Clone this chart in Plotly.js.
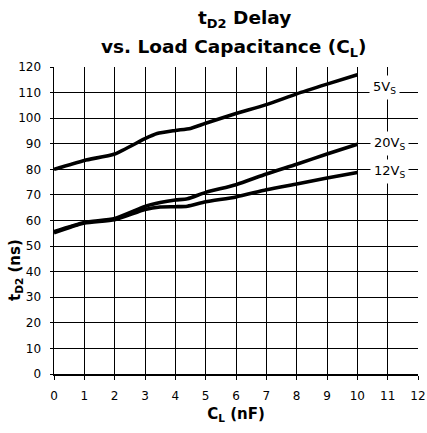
<!DOCTYPE html>
<html><head><meta charset="utf-8">
<script src="https://cdn.plot.ly/plotly-3.0.1.min.js"></script>
<style>body{margin:0;padding:0;background:#fff}#chart{width:427px;height:433px}</style>
</head><body><div id="chart"></div>
<script>
const x5 = [0, 1, 2, 3, 3.4, 4, 4.5, 5, 6, 7, 8, 9, 10];
const y5 = [80, 83.5, 86, 92, 94, 95.2, 96, 98, 101.8, 105.3, 109.5, 113.3, 117];
const x20 = [0, 1, 2, 3, 3.5, 4, 4.4, 5, 6, 7, 8, 9, 10];
const y20 = [55.6, 59.2, 60.8, 65.5, 67, 68, 68.5, 71, 74, 78.2, 82, 86, 89.8];
const x12 = [0, 1, 2, 3, 3.5, 4, 4.4, 5, 6, 7, 8, 9, 10];
const y12 = [55.2, 59, 60.3, 64.3, 65.3, 65.4, 65.6, 67.3, 69.2, 72, 74.3, 76.6, 78.8];
const labels = ["5V<sub>S</sub>", "20V<sub>S</sub>", "12V<sub>S</sub>"];
const labelX = [10.9, 11.05, 11.05];
const labelY = [112, 90, 79];
const xTicks = [0,1,2,3,4,5,6,7,8,9,10,11,12];
const yTicks = [0,10,20,30,40,50,60,70,80,90,100,110,120];
const titleLines = ["<b>t<sub>D2</sub> Delay</b>", "<b>vs. Load Capacitance (C<sub>L</sub>)</b>"];
const yTitle = "<b>t<sub>D2</sub> (ns)</b>";

const font = "'DejaVu Sans', sans-serif";
const lineStyle = {color: "#000", width: 3.6, shape: "spline", smoothing: 0.6};
const traces = [
  {x: x5, y: y5, mode: "lines", line: lineStyle, showlegend: false, hoverinfo: "skip"},
  {x: x20, y: y20, mode: "lines", line: lineStyle, showlegend: false, hoverinfo: "skip"},
  {x: x12, y: y12, mode: "lines", line: lineStyle, showlegend: false, hoverinfo: "skip"}
];
const annotations = labels.map((t, i) => ({
  x: labelX[i], y: labelY[i], xref: "x", yref: "y", text: t, showarrow: false,
  bgcolor: "#fff", font: {family: font, size: 13, color: "#000"}, borderpad: 3
}));
// title lines (pixel rows ~19 and ~48; plot area spans 67..374, 54..418)
const titleY = [(374 - 19) / 307, (374 - 48) / 307];
const titleX = [(244 - 54) / 364, (234 - 54) / 364];
titleLines.forEach((t, i) => annotations.push({
  x: titleX[i], y: titleY[i], xref: "paper", yref: "paper", xanchor: "center", yanchor: "middle",
  text: t, showarrow: false, font: {family: font, size: 18.5, color: "#000"}
}));
annotations.push({
  x: (15 - 54) / 364, y: (374 - 270) / 307, xref: "paper", yref: "paper", xanchor: "center", yanchor: "middle",
  text: yTitle, textangle: -90, showarrow: false, font: {family: font, size: 15, color: "#000"}
});
const layout = {
  width: 427, height: 433,
  margin: {l: 54, r: 9, t: 67, b: 59},
  paper_bgcolor: "#fff", plot_bgcolor: "#fff",
  font: {family: font, color: "#000"},
  xaxis: {range: [0, 12], tickvals: xTicks, ticktext: xTicks.map(String), showgrid: true,
          gridcolor: "#000", gridwidth: 1, zeroline: false, showline: true, linecolor: "#000", linewidth: 1.5,
          ticks: "outside", ticklen: 4, tickcolor: "#000", tickfont: {family: font, size: 12, color: "#000"},
          ticklabelstandoff: 6,
          title: {text: "<b>C<sub>L</sub> (nF)</b>", font: {family: font, size: 15, color: "#000"}, standoff: 6}},
  yaxis: {range: [0, 120], tickvals: yTicks, ticktext: yTicks.map(String), showgrid: true,
          gridcolor: "#000", gridwidth: 1, zeroline: false, showline: true, linecolor: "#000", linewidth: 1.5,
          ticks: "outside", ticklen: 3, tickcolor: "#000", tickfont: {family: font, size: 12, color: "#000"},
          ticklabelstandoff: 6},
  annotations: annotations
};
Plotly.newPlot("chart", traces, layout, {staticPlot: true, displayModeBar: false});
</script></body></html>
